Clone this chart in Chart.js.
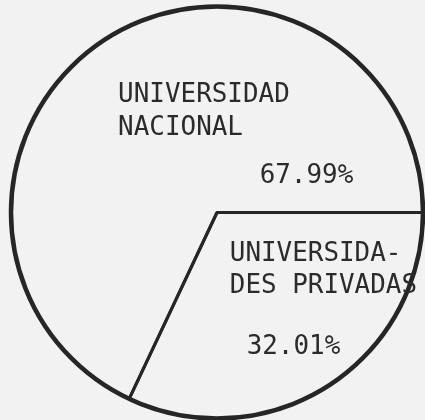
<!DOCTYPE html>
<html>
<head>
<meta charset="utf-8">
<script src="https://cdn.jsdelivr.net/npm/chart.js@4/dist/chart.umd.min.js"></script>
<style>
    html, body { margin: 0; padding: 0; background: #f2f2f2; }
    #wrap { width: 425px; height: 420px; }
</style>
</head>
<body>
<div id="wrap"><canvas id="pieChart"></canvas></div>
<script>
// Distribución de estudiantes por tipo de universidad
const categorias = [['UNIVERSIDA-', 'DES PRIVADAS'], ['UNIVERSIDAD', 'NACIONAL']];
const porcentajes = [32.01, 67.99];

// Etiquetas dentro de cada sector, relativas al centro y al radio del pastel
const posicionEtiquetas = [
    { nombre: [0.062, 0.236], valor: [0.144, 0.688] },
    { nombre: [-0.48, -0.534], valor: [0.207, -0.144] }
];

const etiquetasPlugin = {
    id: 'etiquetas',
    afterDatasetsDraw(chart) {
        const ctx = chart.ctx;
        const meta = chart.getDatasetMeta(0);
        const arco = meta.data[0].getProps(['x', 'y', 'outerRadius'], true);
        const cx = arco.x, cy = arco.y, r = arco.outerRadius;
        ctx.save();
        // contorno exterior más grueso que las divisiones
        ctx.strokeStyle = '#262626';
        ctx.lineWidth = 4.5;
        ctx.beginPath();
        ctx.arc(cx, cy, r, 0, Math.PI * 2);
        ctx.stroke();

        ctx.fillStyle = '#2b2b2b';
        ctx.font = '27px "DejaVu Sans Mono", monospace';
        ctx.textAlign = 'left';
        ctx.textBaseline = 'alphabetic';
        categorias.forEach((lineas, i) => {
            const pos = posicionEtiquetas[i];
            lineas.forEach((linea, j) => {
                const x = cx + pos.nombre[0] * r;
                const y = cy + pos.nombre[1] * r + j * 0.157 * r;
                ctx.save();
                ctx.translate(x, y);
                ctx.scale(0.96, 1);
                ctx.fillText(linea, 0, 0);
                ctx.restore();
            });
            ctx.save();
            ctx.translate(cx + pos.valor[0] * r, cy + pos.valor[1] * r);
            ctx.scale(0.96, 1);
            ctx.fillText(porcentajes[i].toFixed(2) + '%', 0, 0);
            ctx.restore();
        });
        ctx.restore();
    }
};

const ctx = document.getElementById('pieChart').getContext('2d');
const pieChart = new Chart(ctx, {
    type: 'pie',
    data: {
        labels: categorias.map(l => l.join(' ')),
        datasets: [{
            data: porcentajes,
            backgroundColor: 'rgba(0, 0, 0, 0)',
            borderColor: '#262626',
            borderWidth: 3
        }]
    },
    options: {
        responsive: true,
        maintainAspectRatio: false,
        animation: false,
        rotation: 90,
        layout: {
            padding: { left: 9, right: 0, top: 5, bottom: 0 }
        },
        plugins: {
            legend: { display: false },
            tooltip: { enabled: false }
        }
    },
    plugins: [etiquetasPlugin]
});
</script>
</body>
</html>
